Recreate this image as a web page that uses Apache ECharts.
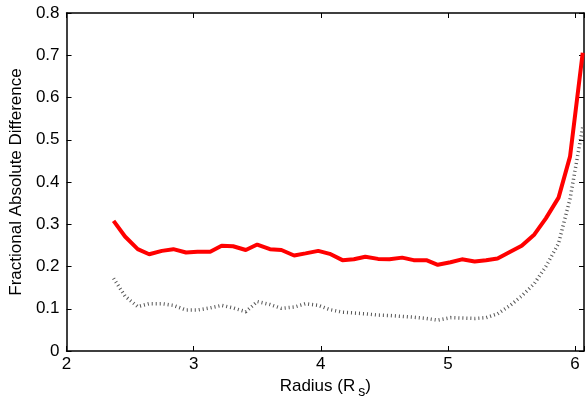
<!DOCTYPE html>
<html>
<head>
<meta charset="utf-8">
<script src="https://cdn.jsdelivr.net/npm/echarts@6/dist/echarts.min.js"></script>
<style>
  html, body { margin: 0; padding: 0; background: #fff; }
  #chart { width: 587px; height: 405px; }
</style>
</head>
<body>
<div id="chart"></div>
<script>
// radius sample points (R_s)
const radius = [
  2.37, 2.46, 2.56, 2.65, 2.75, 2.84, 2.94, 3.03, 3.13, 3.22,
  3.31, 3.41, 3.50, 3.60, 3.69, 3.79, 3.88, 3.98, 4.07, 4.17,
  4.26, 4.35, 4.45, 4.54, 4.64, 4.73, 4.83, 4.92, 5.02, 5.11,
  5.21, 5.30, 5.39, 5.49, 5.58, 5.68, 5.77, 5.87, 5.96, 6.06
]
// red solid curve
const redDiff = [
  0.308, 0.271, 0.241, 0.229, 0.237, 0.241, 0.233, 0.235, 0.235, 0.249,
  0.248, 0.239, 0.252, 0.241, 0.239, 0.226, 0.231, 0.237, 0.230, 0.215,
  0.217, 0.223, 0.218, 0.217, 0.221, 0.215, 0.215, 0.204, 0.210, 0.217,
  0.212, 0.215, 0.219, 0.235, 0.249, 0.276, 0.314, 0.363, 0.460, 0.706
]
// black dotted curve
const blackDiff = [
  0.172, 0.130, 0.105, 0.112, 0.112, 0.108, 0.097, 0.097, 0.102, 0.108,
  0.102, 0.093, 0.117, 0.110, 0.101, 0.104, 0.112, 0.108, 0.098, 0.092,
  0.090, 0.088, 0.085, 0.084, 0.082, 0.080, 0.077, 0.073, 0.079, 0.078,
  0.077, 0.079, 0.088, 0.108, 0.130, 0.160, 0.200, 0.255, 0.360, 0.530
]
const xTicks = [2, 3, 4, 5, 6]

const font = 'Liberation Sans, Arial, Helvetica, sans-serif'
const chart = echarts.init(document.getElementById('chart'))

const pair = (xs, ys) => xs.map((x, i) => [x, ys[i]])

const axisLine = { show: true, onZero: false, lineStyle: { color: '#000', width: 1.5 } }
const tickIn = { show: true, inside: true, length: 5, lineStyle: { color: '#000', width: 1 } }

chart.setOption({
  animation: false,
  grid: { left: 65, right: 3, top: 13, bottom: 54 },
  xAxis: [
    {
      type: 'value',
      min: 2,
      max: 6.07,
      interval: 1,
      axisLine,
      axisTick: tickIn,
      splitLine: { show: false },
      axisLabel: {
        color: '#000',
        fontSize: 17,
        fontFamily: font,
        margin: 5,
        formatter: v => (xTicks.includes(v) ? String(v) : '')
      },
      name: '{n|Radius (R}{s|s}{n|)}',
      nameLocation: 'middle',
      nameGap: 22,
      nameTextStyle: {
        verticalAlign: 'top',
        rich: {
          n: { fontSize: 17, fontFamily: font, color: '#000' },
          s: { fontSize: 14, fontFamily: font, color: '#000', padding: [12, 0, 0, 3] }
        }
      }
    },
    {
      type: 'value',
      position: 'top',
      min: 2,
      max: 6.07,
      interval: 1,
      axisLine,
      axisTick: tickIn,
      axisLabel: { show: false },
      splitLine: { show: false }
    }
  ],
  yAxis: [
    {
      type: 'value',
      min: 0,
      max: 0.8,
      interval: 0.1,
      axisLine,
      axisTick: tickIn,
      splitLine: { show: false },
      axisLabel: {
        color: '#000',
        fontSize: 17,
        fontFamily: font,
        margin: 7,
        formatter: v => (v === 0 ? '0' : v.toFixed(1))
      },
      name: 'Fractional Absolute Difference',
      nameLocation: 'middle',
      nameGap: 38,
      nameTextStyle: { color: '#000', fontSize: 17, fontFamily: font }
    },
    {
      type: 'value',
      position: 'right',
      min: 0,
      max: 0.8,
      interval: 0.1,
      axisLine,
      axisTick: tickIn,
      axisLabel: { show: false },
      splitLine: { show: false }
    }
  ],
  series: [
    {
      type: 'line',
      data: pair(radius, blackDiff),
      showSymbol: false,
      symbol: 'none',
      lineStyle: { color: '#555', width: 3.5, type: [1, 3] },
      z: 2
    },
    {
      type: 'line',
      data: pair(radius, redDiff),
      showSymbol: false,
      symbol: 'none',
      lineStyle: { color: '#ff0000', width: 4 },
      z: 3
    }
  ]
})
</script>
</body>
</html>
